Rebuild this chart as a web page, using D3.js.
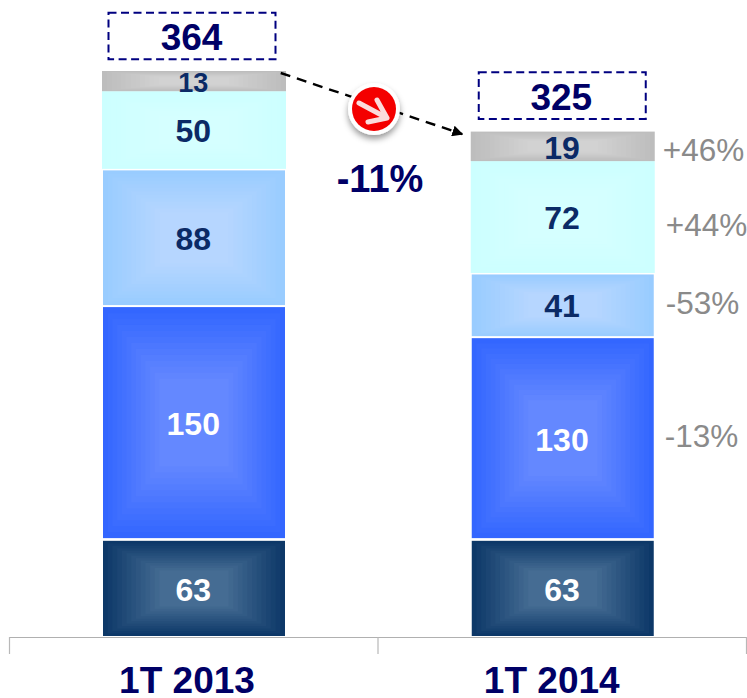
<!DOCTYPE html>
<html><head><meta charset="utf-8">
<script src="https://cdnjs.cloudflare.com/ajax/libs/d3/7.8.5/d3.min.js"></script>
<style>html,body{margin:0;padding:0;background:#fff}svg{display:block}text{font-family:"Liberation Sans",Arial,sans-serif}</style>
</head><body><svg id="c" width="747" height="698"></svg>
<script>
const categories = ["1T 2013", "1T 2014"];
const values2013 = [63, 150, 88, 50, 13];
const values2014 = [63, 130, 41, 72, 19];
const totals = [364, 325];
const changes = ["", "-13%", "-53%", "+44%", "+46%"];
const overallChange = "-11%";
const edgeColors = ["#0d3868", "#3366ff", "#99ccff", "#ccffff", "#bdbdbd"];
const coreColors = ["#456c93", "#6488ff", "#b6d6ff", "#d5ffff", "#d2d2d2"];
const labelColors = ["#ffffff", "#ffffff", "#0b2a66", "#0b2a66", "#0b2a66"];
const changeOffsets = [null, {dx: 11, y: 436}, {dx: 12, y: 303}, {dx: 11, y: 225}, {dx: 8, y: 150}];

const svg = d3.select("#c");
const x = d3.scaleBand().domain(categories).range([9.5, 746.5]);
const y = d3.scaleLinear().domain([0, 364]).range([636.5, 71]);
const barW = 183;
const columns = [values2013, values2014];
const steps = 12, insetTotal = 0.62;

// axis
const axis = d3.axisBottom(x).tickSize(0).tickPadding(0).tickFormat("");
const axisG = svg.append("g").attr("transform", "translate(0,637)").call(axis);
axisG.select(".domain").attr("stroke", "#b0b0b0").attr("stroke-width", 1.2);
const tickXs = [x.range()[0], x(categories[1]), x.range()[1]];
svg.append("g").selectAll("line").data(tickXs).join("line")
  .attr("x1", d => d).attr("x2", d => d).attr("y1", 637).attr("y2", 654)
  .attr("stroke", "#b8b8b8").attr("stroke-width", 1.2);

categories.forEach((cat, ci) => {
  const cx = x(cat) + x.bandwidth() / 2 + (ci === 0 ? 0.25 : 0.5);
  const vals = columns[ci];
  let cum = 0;
  const g = svg.append("g");
  vals.forEach((v, si) => {
    const y0 = y(cum + v), y1 = y(cum);
    cum += v;
    const topGap = si >= 3 ? 0 : si === 0 ? 2.2 : 1.5;
    const top = y0 + topGap, bottom = y1 - (si >= 3 ? 0 : 0.5);
    const h = bottom - top;
    const w = si <= 2 ? barW - 1 : barW + 1;
    const col = d3.interpolateRgb(edgeColors[si], coreColors[si]);
    g.append("rect").attr("class", "bar").attr("x", cx - w / 2).attr("y", top).attr("width", w).attr("height", h).attr("fill", edgeColors[si]);
    g.append("g").selectAll("rect").data(d3.range(1, steps + 1)).join("rect")
      .attr("x", k => cx - w / 2 + (w / 2) * insetTotal * k / steps)
      .attr("y", k => top + (h / 2) * insetTotal * k / steps)
      .attr("width", k => w - w * insetTotal * k / steps)
      .attr("height", k => h - h * insetTotal * k / steps)
      .attr("fill", k => col(k / steps));
    g.append("text").attr("x", cx - 0.75).attr("y", (y0 + y1) / 2 + (si >= 3 ? 1 : ci === 1 && si === 2 ? 1 : 2)).attr("dy", ".35em")
      .attr("text-anchor", "middle").attr("font-weight", "bold")
      .attr("font-size", si === 4 && ci === 0 ? 27 : 32).attr("fill", labelColors[si]).text(v);
    if (ci === 1 && changes[si]) {
      g.append("text").attr("x", cx + w / 2 + changeOffsets[si].dx).attr("y", changeOffsets[si].y).attr("dy", ".35em")
        .attr("font-size", 31.5).attr("fill", "#8a8a8a").text(changes[si]);
    }
  });

  // total box
  const boxTop = y(totals[ci]) - (ci === 0 ? 58.3 : 59.3), boxH = 46.6, boxW = 167;
  svg.append("rect").attr("x", cx - boxW / 2 + (ci === 0 ? -2 : -0.5)).attr("y", boxTop).attr("width", boxW).attr("height", boxH)
    .attr("fill", "#fff").attr("stroke", "#000080").attr("stroke-width", 2).attr("stroke-dasharray", "8 4.5");
  svg.append("text").attr("x", cx - (ci === 0 ? 2.5 : 1.5)).attr("y", boxTop + boxH / 2 + 1).attr("dy", ".35em").attr("text-anchor", "middle")
    .attr("font-weight", "bold").attr("font-size", 37).attr("fill", "#000066").text(totals[ci]);

  svg.append("text").attr("x", ci === 0 ? cx - 7 : cx - 11).attr("y", 693).attr("text-anchor", "middle")
    .attr("font-weight", "bold").attr("font-size", 37).attr("fill", "#000066").text(cat);
});

// trend arrow
const defs = svg.append("defs");
defs.append("marker").attr("id", "ah").attr("viewBox", "0 0 10 10").attr("refX", 9).attr("refY", 5)
  .attr("markerWidth", 11).attr("markerHeight", 11).attr("markerUnits", "userSpaceOnUse").attr("orient", "auto")
  .append("path").attr("d", "M0,0L10,5L0,10Z").attr("fill", "#000");
const sh = defs.append("filter").attr("id", "sh").attr("x", "-50%").attr("y", "-50%").attr("width", "200%").attr("height", "200%");
sh.append("feDropShadow").attr("dx", 0).attr("dy", 4).attr("stdDeviation", 3).attr("flood-color", "#000").attr("flood-opacity", 0.4);
svg.append("line").attr("x1", x(categories[0]) + x.bandwidth() / 2 + 87).attr("y1", y(364) + 2)
  .attr("x2", x(categories[1]) + x.bandwidth() / 2 - 100).attr("y2", y(325) + 2.5)
  .attr("stroke", "#000").attr("stroke-width", 2.4).attr("stroke-dasharray", "10 7").attr("marker-end", "url(#ah)");
const icon = svg.append("g").attr("transform", "translate(374,109)");
icon.append("circle").attr("r", 26).attr("fill", "#fff").attr("filter", "url(#sh)");
icon.append("circle").attr("r", 22).attr("fill", "#f40000");
icon.append("path").attr("d", "M-15,-6L13,9M3,-9L13,9L-6,13").attr("fill", "none").attr("stroke", "#fbdcdc")
  .attr("stroke-width", 5).attr("stroke-linecap", "round").attr("stroke-linejoin", "round");
svg.append("text").attr("x", 380).attr("y", 192).attr("text-anchor", "middle").attr("font-weight", "bold")
  .attr("font-size", 38).attr("fill", "#000066").text(overallChange);
</script></body></html>
